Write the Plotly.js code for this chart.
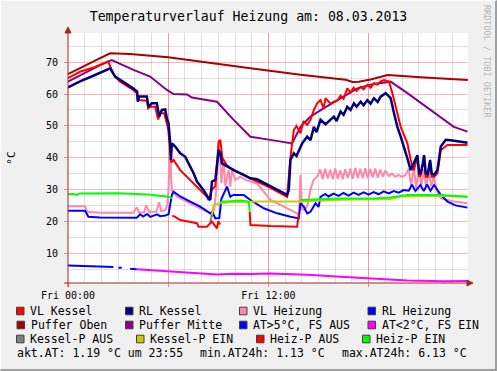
<!DOCTYPE html>
<html>
<head>
<meta charset="utf-8">
<script src="https://cdn.plot.ly/plotly-3.0.1.min.js"></script>
<style>
html,body{margin:0;padding:0;background:#f0f0f0;}
#wrap{position:relative;width:497px;height:371px;overflow:hidden;}
#chart{position:absolute;left:0;top:0;width:497px;height:371px;}
#frame{position:absolute;left:0;top:0;width:497px;height:371px;box-sizing:border-box;border-right:2px solid #a0a0a0;border-bottom:2px solid #a0a0a0;border-left:1px solid #fafafa;border-top:1px solid #fafafa;pointer-events:none;}
</style>
</head>
<body>
<div id="wrap"><div id="chart"></div><div id="frame"></div></div>
<script>
// ---- data (x = hours since Fri 00:00) ----
const titleText = "Temperaturverlauf Heizung am: 08.03.2013";
const xTickVals = [0, 12];
const xTickText = ["Fri 00:00", "Fri 12:00"];

const hPufferOben = [0,0.84,1.5,2.52,3.72,6.0,7.92,10.92,13.92,15.72,16.62,17.04,17.4,18.12,18.72,19.14,21.12,23.94];
const pufferOben  = [66.3,68.6,70.2,72.8,72.6,71.6,70.2,68.1,66.1,65.0,64.5,63.8,63.9,64.6,65.3,66.0,65.3,64.4];

const hPufferMitte = [0,1.12,1.92,2.62,3.92,4.92,5.92,6.32,7.12,7.42,8.92,9.92,10.92,12.12,13.42,13.92,14.52,15.3,16.32,17.32,18.3,19.32,20.32,21.3,22.32,23.1,23.92];
const pufferMitte  = [63.9,67.0,69.1,70.7,67.6,65.5,61.3,60.0,59.9,58.9,57.6,51.9,46.6,45.6,44.5,49.7,52.9,55.5,58.7,61.8,63.2,63.9,60.3,56.6,52.9,49.7,48.2];

const hRlKessel = [0,0.72,1.62,2.52,2.82,3.3,3.9,4.14,4.18,4.26,4.72,4.82,5.02,5.32,5.46,5.62,5.82,5.92,6.02,6.12,6.16,6.22,6.42,6.72,7.02,7.22,7.52,7.72,8.12,8.42,8.52,8.62,8.82,9.02,9.12,9.22,9.52,9.92,10.52,10.92,11.32,12.12,13.12,13.22,13.32,13.52,13.68,14.02,14.32,14.52,14.72,14.88,15.12,15.42,15.92,16.08,16.32,16.5,16.72,16.92,17.12,17.28,17.52,17.7,17.92,18.12,18.32,18.54,18.72,19.02,19.2,19.32,19.52,19.72,19.92,20.12,20.32,20.52,20.7,20.92,21.03,21.12,21.24,21.32,21.42,21.54,21.68,21.78,21.92,22.12,22.32,22.62,22.92,23.92];
const rlKessel  = [62.1,64.0,66.0,68.1,65.5,63.9,61.8,60.8,57.6,59.2,59.2,56.0,57.1,57.1,52.9,55.0,55.2,52.4,50.8,44.5,39.3,44.5,43.5,41.4,40.3,38.2,35.1,32.5,29.8,27.2,26.7,32.5,33.0,42.4,41.4,38.2,37.2,36.1,34.6,33.5,33.2,31.0,28.3,29.8,39.3,41.4,40.5,44.5,46.6,45.5,49.7,48.0,51.9,50.5,52.9,51.5,54.5,53.5,56.0,55.0,57.1,56.0,57.6,56.5,58.1,57.0,58.7,57.5,59.2,60.3,59.5,58.7,54.0,49.7,46.6,43.5,39.8,36.1,38.0,40.8,35.0,35.1,38.0,40.8,35.0,34.8,39.3,35.0,34.6,36.1,43.5,45.6,45.5,44.7];

const hVlKessel = [0,0.72,1.62,2.22,2.4,2.62,2.82,3.12,3.9,4.14,4.18,4.72,4.8,4.92,5.22,5.4,5.52,5.76,5.88,6.0,6.12,6.18,6.32,6.72,7.12,7.52,7.92,8.32,8.42,8.62,8.82,9.02,9.12,9.24,9.52,9.72,10.72,11.32,12.12,13.12,13.32,13.52,13.68,13.92,14.1,14.32,14.52,14.72,14.92,15.12,15.3,15.42,15.72,15.92,16.14,16.32,16.5,16.72,16.92,17.1,17.28,17.52,17.7,17.92,18.12,18.32,18.54,18.72,18.92,19.22,19.42,19.72,19.92,20.32,20.52,20.7,20.92,21.03,21.12,21.24,21.32,21.42,21.54,21.68,21.78,21.92,22.12,22.32,22.72,23.92];
const vlKessel  = [65.0,67.0,68.5,69.8,70.2,67.6,65.5,63.9,61.3,60.2,58.1,57.9,55.5,56.0,56.0,52.0,54.0,54.0,51.0,49.0,42.0,38.5,39.3,36.1,34.0,31.9,29.8,27.7,26.7,30.0,31.0,45.0,45.6,40.0,37.5,36.7,34.0,32.5,30.5,27.7,40.3,48.7,50.0,47.7,51.5,50.3,52.0,55.0,57.1,58.1,55.5,58.7,57.0,57.6,58.0,59.5,58.5,61.8,60.5,62.0,61.0,62.3,61.5,62.9,62.0,63.4,63.0,64.0,64.4,63.9,60.3,54.0,49.7,44.5,39.3,36.0,40.0,34.0,34.5,38.0,40.0,34.0,34.0,38.5,34.0,34.0,35.1,42.4,44.0,44.0];

const hVlHeizung = [0,1.02,1.16,1.92,3.92,4.12,4.26,4.56,4.68,4.86,5.28,5.46,5.58,5.82,5.94,6.02,6.09,6.15,6.18,6.22,6.52,6.92,7.52,8.12,8.52,8.62,8.76,8.88,9.02,9.09,9.18,9.32,9.42,9.62,9.72,9.82,10.02,10.32,10.62,11.32,12.12,12.92,13.72,13.83,13.92,14.01,14.16,14.34,14.52,14.7,14.92,15.1,15.25,15.4,15.55,15.7,15.85,16.0,16.15,16.3,16.45,16.6,16.75,16.9,17.05,17.2,17.35,17.5,17.65,17.8,17.95,18.1,18.25,18.4,18.55,18.7,18.85,19.0,19.2,19.4,19.6,19.8,20.0,20.2,20.4,20.55,20.7,20.85,21.0,21.15,21.3,21.45,21.6,21.75,21.9,22.1,22.32,23.1,23.92];
const vlHeizung  = [24.7,24.7,23.0,22.7,22.7,24.4,22.8,22.8,25.1,22.9,23.0,26.0,23.2,23.5,25.0,30.0,40.0,39.0,33.0,29.8,27.7,26.7,25.1,23.5,22.5,21.4,24.0,30.0,44.5,42.0,32.0,39.3,31.0,36.1,30.9,36.1,33.0,34.0,33.0,31.9,26.7,24.6,22.5,22.2,34.6,24.0,23.5,25.0,30.0,33.0,34.0,36.3,33.3,36.5,33.5,36.2,33.2,36.6,33.4,36.0,33.3,36.4,33.6,36.5,33.4,36.8,33.6,36.5,33.5,36.7,33.6,36.4,33.8,36.6,33.7,36.3,34.0,36.0,34.2,35.0,34.0,34.5,34.0,34.5,36.5,31.0,37.0,30.5,37.0,31.0,36.5,30.5,36.0,31.0,34.0,29.5,27.2,26.2,25.7];

const hRlHeizung = [0,1.02,1.22,1.92,4.12,4.32,4.5,4.74,4.92,5.34,5.52,5.82,6.02,6.12,6.22,6.32,6.72,7.32,7.92,8.52,8.64,8.82,9.06,9.18,9.32,9.52,9.72,9.9,10.52,10.92,11.72,12.52,13.32,13.82,13.92,14.12,14.32,14.52,14.82,15.0,15.12,15.4,15.6,15.9,16.2,16.5,16.8,17.1,17.4,17.7,18.0,18.3,18.6,18.9,19.2,19.5,19.8,20.1,20.4,20.6,20.8,21.1,21.3,21.5,21.7,21.92,22.1,22.32,22.72,23.2,23.92];
const rlHeizung  = [23.3,23.3,21.4,21.2,21.1,22.2,21.5,22.3,21.4,22.2,21.6,21.8,22.2,26.0,28.3,29.3,27.8,26.2,24.6,22.5,23.0,20.9,21.0,27.0,28.8,30.9,27.7,28.3,28.3,26.7,24.1,22.5,21.4,20.9,25.7,24.6,22.5,23.0,25.7,24.5,27.7,28.6,27.8,28.7,28.0,28.9,28.1,29.0,28.3,29.1,28.4,29.2,28.5,29.4,28.8,29.5,29.0,29.8,29.6,31.5,29.5,31.4,29.5,31.6,29.6,31.4,30.0,28.3,26.2,25.0,24.3];

const hAtHigh = [0,0.5,1.0,1.5,2.0,2.72,2.8,3.02,3.22,3.3,3.72,4.12];
const atHigh  = [6.13,6.0,5.9,5.8,5.7,5.6,null,5.4,5.4,null,5.1,4.9];

const hAtLow = [4.12,5.92,7.92,8.92,9.92,10.92,12.12,14.32,16.32,18.32,20.32,22.5,23.92];
const atLow  = [4.9,4.3,3.7,3.3,3.5,3.4,3.6,3.2,2.6,1.95,1.4,1.13,1.19];

const hKesselPAus = [8.5,8.62];
const kesselPAus  = [19.5,22.0];

const hKesselPEin = [8.62,8.72,9.12,9.72,11.32,13.92,16.32,18.3,19.3,19.92,22.32,23.92];
const kesselPEin  = [22.0,25.1,25.7,26.0,26.2,26.2,26.8,27.0,27.0,27.8,28.0,27.7];

const hHeizPAus = [6.24,6.42,6.72,7.32,7.72,7.82,8.32,8.62,8.76,8.92,9.0,9.1,9.11,10.88,10.92,12.12,13.72,13.82];
const heizPAus  = [21.8,21.4,20.4,19.9,19.4,18.3,18.3,19.9,19.0,17.8,20.0,19.0,null,23.0,18.8,18.5,18.3,22.5];

const hHeizPEin = [0,0.3,0.5,0.7,3.0,4.8,6.02,6.22,6.3,9.12,9.22,9.52,10.3,10.82,10.88,10.9,13.92,16.32,18.32,19.3,20.32,22.32,23.92];
const heizPEin  = [28.5,28.6,28.3,28.7,28.8,28.4,27.7,27.3,null,25.7,26.2,26.2,26.5,26.2,23.0,null,26.7,27.2,27.2,27.5,28.3,28.3,27.7];

const legendLabels = ["VL Kessel","RL Kessel","VL Heizung","RL Heizung",
                      "Puffer Oben","Puffer Mitte","AT>5°C, FS AUS","AT<2°C, FS EIN",
                      "Kessel-P AUS","Kessel-P EIN","Heiz-P AUS","Heiz-P EIN"];
const legendColors = ["#ff0000","#000080","#ff88aa","#0000ff",
                      "#aa0000","#880088","#0000ff","#ff00ff",
                      "#808080","#cccc00","#ff0000","#00ff00"];
const statsParts = ["akt.AT: 1.19 °C um 23:55", "min.AT24h: 1.13 °C", "max.AT24h: 6.13 °C"];
const watermark = "RRDTOOL / TOBI OETIKER";

// ---- layout geometry ----
const W = 497, H = 371, L = 68, R = 29, T = 33, B = 88;
const PW = W - L - R, PH = H - T - B;
const px = x => (x - L) / PW;
const py = y => (H - B - y) / PH;
const mono = "DejaVu Sans Mono, monospace";
const legFont = {family: mono, size: 11.5, color: "#000"};

function tr(x, y, color, width) {
  return {x: x, y: y, type: "scatter", mode: "lines", connectgaps: false,
          line: {color: color, width: width || 2}, hoverinfo: "skip", showlegend: false};
}
const traces = [
  tr(hPufferOben, pufferOben, "#aa0000"),
  tr(hPufferMitte, pufferMitte, "#880088"),
  tr(hAtHigh, atHigh, "#0000ff"),
  tr(hAtLow, atLow, "#ff00ff"),
  tr(hVlHeizung, vlHeizung, "#ff88aa"),
  tr(hRlHeizung, rlHeizung, "#0000ff"),
  tr(hKesselPAus, kesselPAus, "#808080"),
  tr(hKesselPEin, kesselPEin, "#cccc00"),
  tr(hHeizPAus, heizPAus, "#ff0000"),
  tr(hHeizPEin, heizPEin, "#00ff00"),
  tr(hVlKessel, vlKessel, "#ff0000"),
  tr(hRlKessel, rlKessel, "#000080", 2.5)
];

// legend placement (pixel positions of text starts per row)
const rowY = [311, 325, 339];
const colTextX = [[30,139,253,381.5],[30.5,139,253,381.5],[30,150,270,376]];
const shapes = [];
const annotations = [];
legendLabels.forEach((lab, i) => {
  const r = Math.floor(i / 4), c = i % 4;
  const tx = colTextX[r][c], cy = rowY[r];
  shapes.push({type: "rect", xref: "paper", yref: "paper",
    x0: px(tx - 13.5), x1: px(tx - 6), y0: py(cy + 3.8), y1: py(cy - 3.8),
    fillcolor: legendColors[i], line: {color: "#404040", width: 1}});
  annotations.push({xref: "paper", yref: "paper", x: px(tx - 2), y: py(cy),
    xanchor: "left", yanchor: "middle", text: lab, showarrow: false, font: legFont});
});
const statsX = [15, 198, 340];
statsParts.forEach((s, i) => {
  annotations.push({xref: "paper", yref: "paper", x: px(statsX[i]), y: py(353), xanchor: "left", yanchor: "middle",
    text: s, showarrow: false, font: legFont});
});
annotations.push({xref: "paper", yref: "paper", x: px(487), y: py(61), xanchor: "center", yanchor: "middle",
  text: watermark, textangle: 90, showarrow: false, font: {family: mono, size: 8.5, color: "#b8b8b8"}});

// axes with arrows
const axisColor = "#a02828";
shapes.push({type: "line", xref: "paper", yref: "paper", x0: px(64), x1: px(469), y0: 0, y1: 0, line: {color: axisColor, width: 1}});
shapes.push({type: "line", xref: "paper", yref: "paper", x0: 0, x1: 0, y0: py(287), y1: py(31), line: {color: axisColor, width: 1}});
shapes.push({type: "path", xref: "paper", yref: "paper", fillcolor: axisColor, line: {color: axisColor, width: 1},
  path: `M ${px(473)} 0 L ${px(467)} ${3/PH} L ${px(467)} ${-3/PH} Z`});
shapes.push({type: "path", xref: "paper", yref: "paper", fillcolor: axisColor, line: {color: axisColor, width: 1},
  path: `M 0 ${py(27)} L ${3/PW} ${py(33)} L ${-3/PW} ${py(33)} Z`});

const layout = {
  width: W, height: H,
  margin: {l: L, r: R, t: T, b: B, pad: 0},
  paper_bgcolor: "#f0f0f0", plot_bgcolor: "#ffffff",
  font: {family: mono, size: 10, color: "#000"},
  title: {text: titleText, font: {family: mono, size: 13.2, color: "#000"},
          x: 0.5, xanchor: "center", xref: "container", y: 1 - 16/H, yref: "container", yanchor: "middle"},
  showlegend: false,
  xaxis: {range: [0, 23.95], tickvals: [0, 6, 12, 18], ticktext: [xTickText[0], "", xTickText[1], ""],
          showgrid: true, gridcolor: "rgba(255,0,0,0.28)", gridwidth: 1, zeroline: false, showline: false,
          ticks: "outside", ticklen: 3, tickcolor: "rgba(255,0,0,0.45)", tickfont: {family: mono, size: 10},
          minor: {dtick: 1, tick0: 0, showgrid: true, gridcolor: "rgba(150,150,150,0.3)", gridwidth: 1},
          fixedrange: true},
  yaxis: {range: [0.6, 79.2], dtick: 10, tick0: 0, showgrid: true, gridcolor: "rgba(255,0,0,0.28)", gridwidth: 1,
          zeroline: false, showline: false, ticks: "outside", ticklen: 3, tickcolor: "rgba(255,0,0,0.45)",
          tickfont: {family: mono, size: 10}, ticklabelstandoff: 4,
          minor: {dtick: 5, tick0: 0, showgrid: true, gridcolor: "rgba(150,150,150,0.3)", gridwidth: 1},
          title: {text: "°C", font: {family: mono, size: 11}, standoff: 28},
          fixedrange: true},
  shapes: shapes,
  annotations: annotations
};

Plotly.newPlot("chart", traces, layout, {displayModeBar: false, staticPlot: true});
</script>
</body>
</html>
